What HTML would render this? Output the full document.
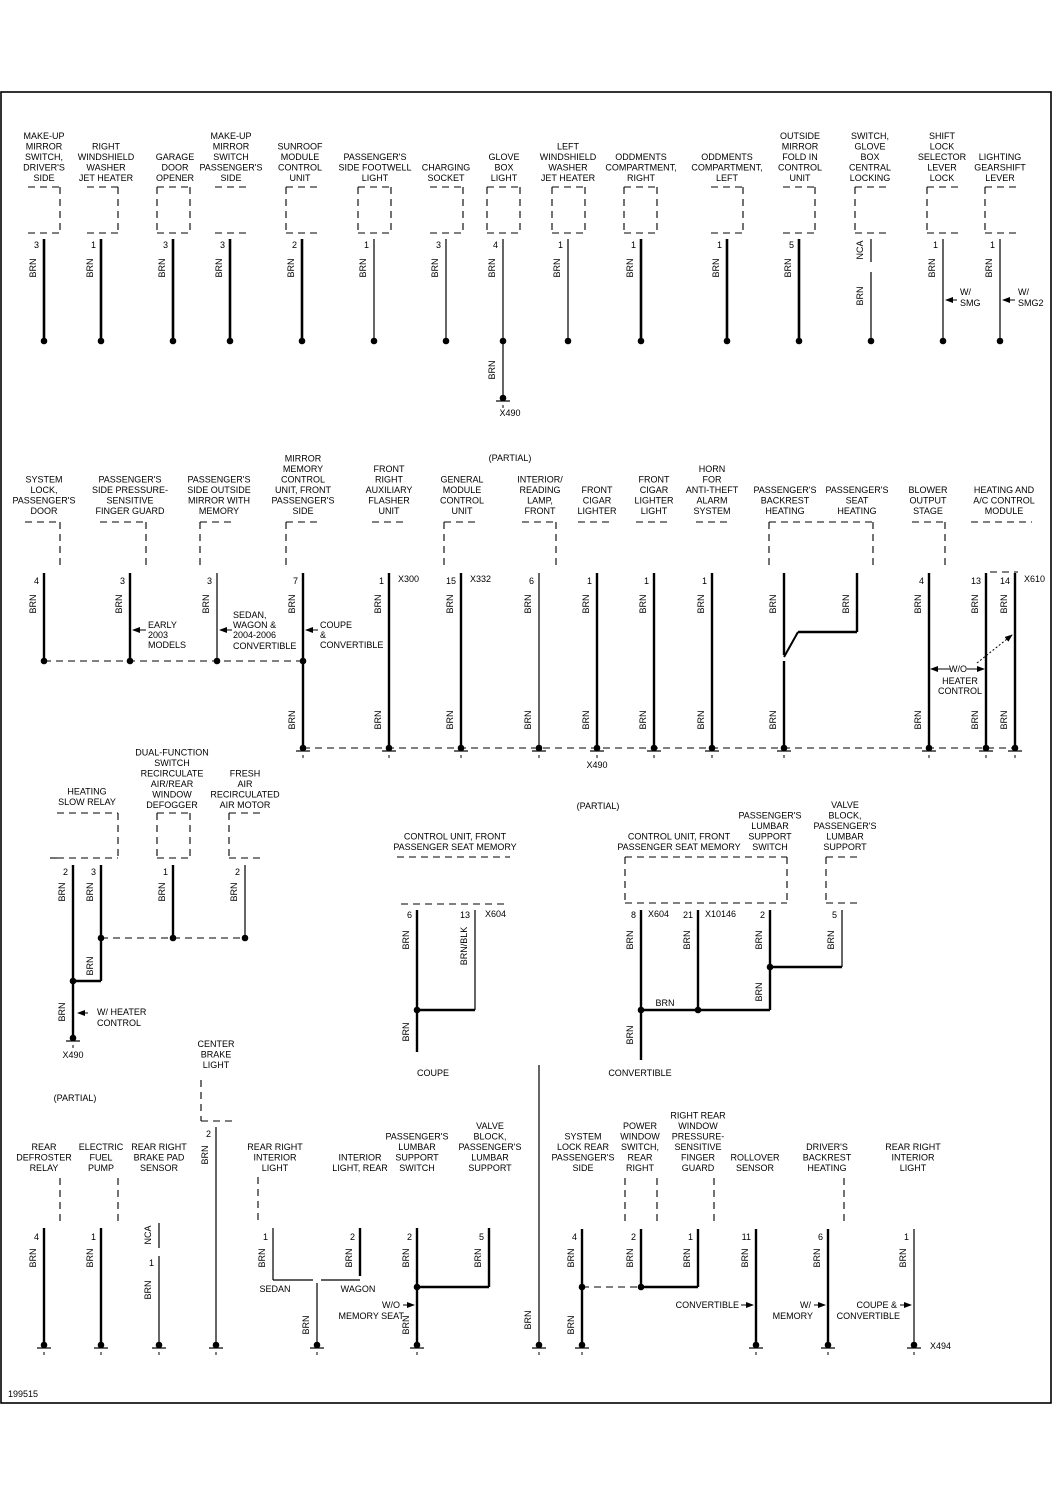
<!DOCTYPE html>
<html><head><meta charset="utf-8"><style>
html,body{margin:0;padding:0;background:#fff;}
svg{display:block;}
text{font-family:"Liberation Sans",sans-serif;font-size:9px;fill:#000;}
</style></head><body>
<svg id="s" width="1058" height="1497" xmlns="http://www.w3.org/2000/svg">
<defs><marker id="ah" markerWidth="8" markerHeight="6" refX="7" refY="3" orient="auto"><path d="M0,0 L8,3 L0,6 z" fill="#000"/></marker></defs>
<rect x="1" y="92" width="1050" height="1311" fill="none" stroke="#000" stroke-width="1.6"/>
</svg>
<script>
const S=document.getElementById('s'),NS='http://www.w3.org/2000/svg';
function el(t,a,txt){const e=document.createElementNS(NS,t);for(const k in a)e.setAttribute(k,a[k]);if(txt!==undefined)e.textContent=txt;S.appendChild(e);return e;}
function T(x,y,s,anc,rot){const a={x:x,y:y,'text-anchor':anc||'middle'};if(rot)a.transform='rotate(-90 '+x+' '+y+')';return el('text',a,s);}
function Lb(cx,yb,lines){const n=lines.length;lines.forEach((s,i)=>T(cx,yb-(n-1-i)*10.5,s));}
function W(x,y1,y2,w){el('line',{x1:x,y1:y1,x2:x,y2:y2,stroke:'#000','stroke-width':w||2.4});}
function H(x1,x2,y,w){el('line',{x1:x1,y1:y,x2:x2,y2:y,stroke:'#000','stroke-width':w||2.4});}
function Ln(x1,y1,x2,y2,w){el('line',{x1:x1,y1:y1,x2:x2,y2:y2,stroke:'#000','stroke-width':w||1.2});}
function D(x1,y1,x2,y2){el('line',{x1:x1,y1:y1,x2:x2,y2:y2,stroke:'#000','stroke-width':1.1,'stroke-dasharray':'7,5'});}
function Dot(x,y){el('circle',{cx:x,cy:y,r:3.3,fill:'#000'});}
function G(x,y){Dot(x,y);Ln(x-7,y+3,x+7,y+3,1.2);Ln(x,y+7,x,y+10,1);}
function B(x,y,s){T(x-8,y,s||'BRN','middle',true);}
function P(x,y,s){T(x-5,y,s,'end');}
function Box(x1,x2,y1,y2,sides){if(sides.includes('t'))D(x1,y1,x2,y1);if(sides.includes('r'))D(x2,y1,x2,y2);if(sides.includes('b'))D(x1,y2,x2,y2);if(sides.includes('l'))D(x1,y1,x1,y2);}
function Arr(x1,y,x2){el('line',{x1:x1,y1:y,x2:x2,y2:y,stroke:'#000','stroke-width':1,'marker-end':'url(#ah)'});}

const r1=[
[44,28,60,'trb',1,'3',['MAKE-UP','MIRROR','SWITCH,','DRIVER\'S','SIDE'],44],
[101,87,118,'trb',1,'1',['RIGHT','WINDSHIELD','WASHER','JET HEATER'],106],
[173,157,190,'trbl',1,'3',['GARAGE','DOOR','OPENER'],175],
[230,215,247,'tb',1,'3',['MAKE-UP','MIRROR','SWITCH','PASSENGER\'S','SIDE'],231],
[302,286,319,'tlb',1,'2',['SUNROOF','MODULE','CONTROL','UNIT'],300],
[374,358,391,'trbl',0,'1',['PASSENGER\'S','SIDE FOOTWELL','LIGHT'],375],
[446,430,463,'trb',0,'3',['CHARGING','SOCKET'],446],
[503,487,520,'trbl',0,'4',['GLOVE','BOX','LIGHT'],504],
[568,552,585,'trbl',0,'1',['LEFT','WINDSHIELD','WASHER','JET HEATER'],568],
[641,624,657,'trbl',1,'1',['ODDMENTS','COMPARTMENT,','RIGHT'],641],
[727,711,743,'trb',1,'1',['ODDMENTS','COMPARTMENT,','LEFT'],727],
[799,783,815,'trb',1,'5',['OUTSIDE','MIRROR','FOLD IN','CONTROL','UNIT'],800],
[871,855,888,'tlb',0,'',['SWITCH,','GLOVE','BOX','CENTRAL','LOCKING'],870],
[943,927,960,'tlb',0,'1',['SHIFT','LOCK','SELECTOR','LEVER','LOCK'],942],
[1000,985,1017,'tlb',0,'1',['LIGHTING','GEARSHIFT','LEVER'],1000]];
r1.forEach(c=>{const[x,a,b,sd,th,pin,lab,cx]=c;Lb(cx,181,lab);Box(a,b,187,233,sd);
 if(x==871){W(x,239,262,1.2);W(x,272,341,1.2);B(x,250,'NCA');B(x,296);}
 else{W(x,239,341,th?2.6:1.2);P(x,248,pin);B(x,268);}
 Dot(x,341);});
W(503,341,398,1.2);B(503,370);G(503,398);T(510,416,'X490');
Arr(957,300,946);T(960,295,'W/','start');T(960,306,'SMG','start');
Arr(1015,300,1003);T(1018,295,'W/','start');T(1018,306,'SMG2','start');

T(510,461,'(PARTIAL)');
const r2=[
[44,['SYSTEM','LOCK,','PASSENGER\'S','DOOR'],44,'4',1],
[130,['PASSENGER\'S','SIDE PRESSURE-','SENSITIVE','FINGER GUARD'],130,'3',1],
[217,['PASSENGER\'S','SIDE OUTSIDE','MIRROR WITH','MEMORY'],219,'3',0],
[303,['MIRROR','MEMORY','CONTROL','UNIT, FRONT','PASSENGER\'S','SIDE'],303,'7',1],
[389,['FRONT','RIGHT','AUXILIARY','FLASHER','UNIT'],389,'1',1],
[461,['GENERAL','MODULE','CONTROL','UNIT'],462,'15',1],
[539,['INTERIOR/','READING','LAMP,','FRONT'],540,'6',0],
[597,['FRONT','CIGAR','LIGHTER'],597,'1',1],
[654,['FRONT','CIGAR','LIGHTER','LIGHT'],654,'1',1],
[712,['HORN','FOR','ANTI-THEFT','ALARM','SYSTEM'],712,'1',1],
[784,['PASSENGER\'S','BACKREST','HEATING'],785,'',1],
[929,['BLOWER','OUTPUT','STAGE'],928,'4',1]];
r2.forEach(c=>{const[x,lab,cx,pin,th]=c;Lb(cx,514,lab);if(pin)P(x,584,pin);B(x,604);});
Lb(857,514,['PASSENGER\'S','SEAT','HEATING']);Lb(1004,514,['HEATING AND','A/C CONTROL','MODULE']);
Box(25,60,522,567,'tr');Box(100,146,522,567,'tr');Box(200,233,522,567,'tl');Box(286,320,522,567,'tl');
D(372,522,405,522);Box(444,478,522,567,'tl');Box(522,556,522,567,'tr');D(578,522,613,522);D(636,522,672,522);D(696,522,729,522);
Box(769,873,522,567,'tlr');Box(912,945,522,567,'tr');D(971,522,1032,522);
[44,130,217,303].forEach((x,i)=>{W(x,573,661,i==2?1.2:2.4);Dot(x,661);});
D(44,661,303,661);W(303,661,748);
Arr(146,630,133);T(148,628,'EARLY','start');T(148,638,'2003','start');T(148,648,'MODELS','start');
Arr(232,630,220);T(233,618,'SEDAN,','start');T(233,628,'WAGON &','start');T(233,638,'2004-2006','start');T(233,649,'CONVERTIBLE','start');
Arr(318,630,306);T(320,628,'COUPE','start');T(320,638,'&','start');T(320,648,'CONVERTIBLE','start');
[389,461,597,654,712,929,986,1015].forEach(x=>W(x,573,748));W(539,573,748,1.2);
T(398,582,'X300','start');T(470,582,'X332','start');
P(986,584,'13');P(1015,584,'14');B(986,604);B(1015,604);T(1024,582,'X610','start');
D(990,572,1018,572);
W(784,573,655);W(784,661,748);W(857,573,632);B(857,604);H(798,857,632);Ln(798,632,784,657,2);
[303,389,461,539,597,654,712,784,929,986,1015].forEach(x=>{B(x,720);G(x,748);});
D(303,748,1020,748);T(597,768,'X490');
Arr(950,669,931);Arr(967,669,984);T(958,672,'W/O');T(960,684,'HEATER');T(960,694,'CONTROL');
el('line',{x1:977,y1:663,x2:1012,y2:635,stroke:'#000','stroke-width':1,'stroke-dasharray':'2,2','marker-end':'url(#ah)'});

Lb(87,805,['HEATING','SLOW RELAY']);Box(57,118,813,858,'trb');D(50,858,57,858);
Lb(172,808,['DUAL-FUNCTION','SWITCH','RECIRCULATE','AIR/REAR','WINDOW','DEFOGGER']);Box(157,190,813,858,'trbl');
Lb(245,808,['FRESH','AIR','RECIRCULATED','AIR MOTOR']);Box(229,262,813,858,'tlb');
W(73,865,1038);W(101,865,981);H(73,101,981);Dot(73,981);Dot(101,938);W(173,865,938);W(245,865,938,1.2);
D(101,938,245,938);Dot(173,938);Dot(245,938);
P(73,875,'2');P(101,875,'3');P(173,875,'1');P(245,875,'2');
[73,101,173,245].forEach(x=>B(x,892));B(101,966);B(73,1012);
Arr(88,1013,78);T(97,1015,'W/ HEATER','start');T(97,1026,'CONTROL','start');G(73,1038);T(73,1058,'X490');

Lb(455,850,['CONTROL UNIT, FRONT','PASSENGER SEAT MEMORY']);D(397,857,510,857);D(401,904,507,904);
W(417,910,1052);W(475,910,1010,1.2);H(417,475,1010);Dot(417,1010);P(417,918,'6');P(475,918,'13');T(485,917,'X604','start');
B(417,940);B(475,946,'BRN/BLK');B(417,1032);T(433,1076,'COUPE');

T(598,809,'(PARTIAL)');Lb(679,850,['CONTROL UNIT, FRONT','PASSENGER SEAT MEMORY']);
Lb(770,850,['PASSENGER\'S','LUMBAR','SUPPORT','SWITCH']);Lb(845,850,['VALVE','BLOCK,','PASSENGER\'S','LUMBAR','SUPPORT']);
Box(625,787,857,903,'trbl');Box(826,858,857,903,'tlb');
W(641,910,1060);W(698,910,1010);W(770,910,1010);W(842,910,967,1.2);H(770,842,967);H(641,770,1010);
Dot(641,1010);Dot(698,1010);Dot(770,967);
P(641,918,'8');P(698,918,'21');P(770,918,'2');P(842,918,'5');T(648,917,'X604','start');T(705,917,'X10146','start');
B(641,940);B(698,940);B(770,940);B(842,940);B(770,992);B(641,1035);T(665,1006,'BRN');T(640,1076,'CONVERTIBLE');
W(539,1065,1345,1.2);B(539,1320);G(539,1345);

T(75,1101,'(PARTIAL)');
Lb(216,1068,['CENTER','BRAKE','LIGHT']);Box(201,233,1080,1121,'lb');W(216,1127,1345,1.2);P(216,1137,'2');B(216,1155);
const r4=[[44,['REAR','DEFROSTER','RELAY'],44,'4',1],[101,['ELECTRIC','FUEL','PUMP'],101,'1',1],[159,['REAR RIGHT','BRAKE PAD','SENSOR'],159,'',0],
[417,['PASSENGER\'S','LUMBAR','SUPPORT','SWITCH'],417,'2',1],[582,['SYSTEM','LOCK REAR','PASSENGER\'S','SIDE'],583,'4',1],
[641,['POWER','WINDOW','SWITCH,','REAR','RIGHT'],640,'2',1],[698,['RIGHT REAR','WINDOW','PRESSURE-','SENSITIVE','FINGER','GUARD'],698,'1',1],
[756,['ROLLOVER','SENSOR'],755,'',1],[828,['DRIVER\'S','BACKREST','HEATING'],827,'6',1],[914,['REAR RIGHT','INTERIOR','LIGHT'],913,'1',0]];
r4.forEach(c=>{const[x,lab,cx,pin,th]=c;Lb(cx,1171,lab);if(pin)P(x,1240,pin);if(x!=159)B(x,1258);});
Lb(275,1171,['REAR RIGHT','INTERIOR','LIGHT']);Lb(360,1171,['INTERIOR','LIGHT, REAR']);Lb(490,1171,['VALVE','BLOCK,','PASSENGER\'S','LUMBAR','SUPPORT']);
D(60,1178,60,1222);D(118,1178,118,1222);D(258,1177,258,1222);D(625,1178,625,1222);D(657,1178,657,1222);D(714,1178,714,1222);D(844,1178,844,1222);
W(44,1228,1345);W(101,1228,1345);W(159,1223,1248,1.2);W(159,1256,1345,1.2);B(159,1235,'NCA');P(159,1266,'1');B(159,1290);
W(273,1228,1280,1.2);H(273,313,1280,1.2);H(321,360,1280,1.2);W(360,1228,1276);W(317,1283,1345,1.2);
P(273,1240,'1');P(360,1240,'2');B(273,1258);B(360,1258);T(275,1292,'SEDAN');T(358,1292,'WAGON');B(317,1325);
W(417,1228,1345);W(489,1228,1287);H(417,489,1287);Dot(417,1287);P(489,1240,'5');B(489,1258);B(417,1325);
Arr(403,1305,414);T(400,1308,'W/O','end');T(404,1319,'MEMORY SEAT','end');
W(582,1229,1345);W(641,1229,1287);W(698,1229,1287);H(641,698,1287);D(582,1287,641,1287);Dot(582,1287);Dot(641,1287);B(582,1325);
W(756,1229,1345);W(828,1229,1345);W(914,1229,1345,1.2);
Arr(741,1305,753);T(739,1308,'CONVERTIBLE','end');P(756,1240,'11');
Arr(814,1305,825);T(811,1308,'W/','end');T(813,1319,'MEMORY','end');
Arr(900,1305,911);T(897,1308,'COUPE &','end');T(900,1319,'CONVERTIBLE','end');
[44,101,159,216,317,417,582,756,828,914].forEach(x=>G(x,1345));T(930,1349,'X494','start');
T(8,1397,'199515','start');
</script>
</body></html>
